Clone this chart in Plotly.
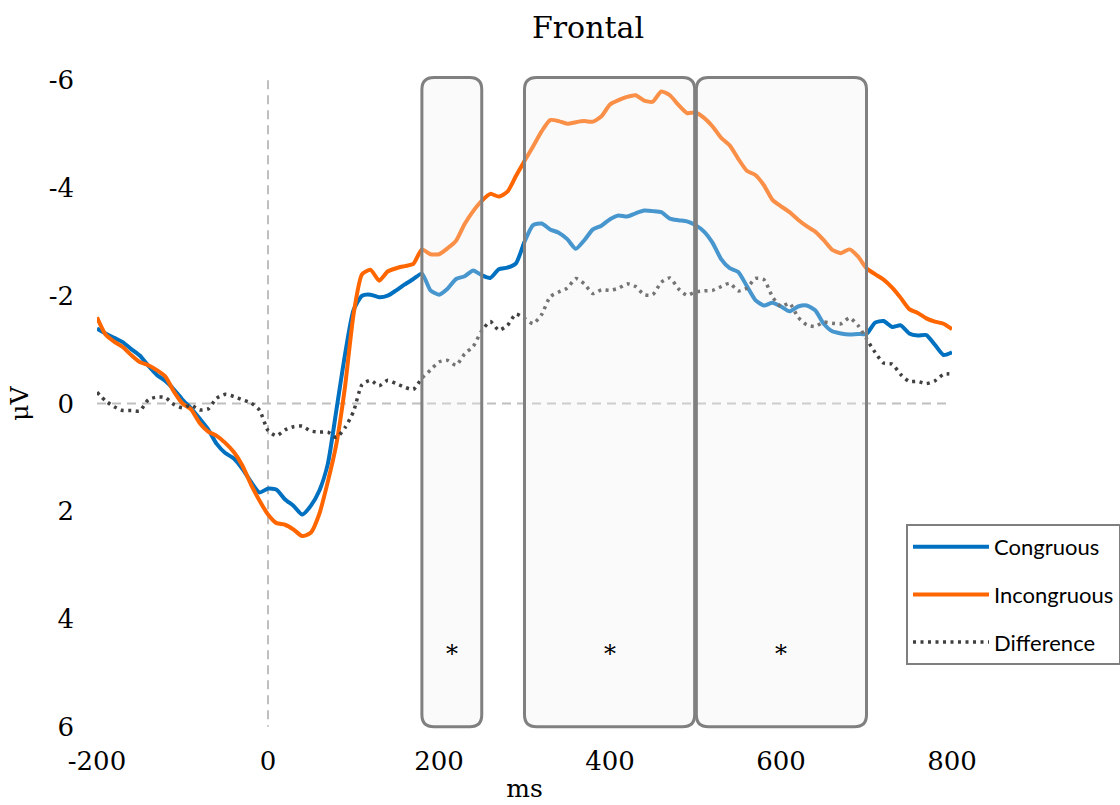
import plotly.graph_objects as go

# ---------------- data ----------------
time_ms = list(range(-200, 801, 10))

congruous = [
    -1.39, -1.30, -1.22, -1.14, -1.01, -0.89, -0.70, -0.53, -0.42, -0.26,
    -0.07, 0.09, 0.28, 0.48, 0.75, 0.92, 1.02, 1.21, 1.45, 1.65,
    1.58, 1.60, 1.78, 1.90, 2.06, 1.90, 1.62, 1.12, 0.12, -0.90,
    -1.73, -2.00, -2.02, -1.97, -2.00, -2.10, -2.21, -2.31, -2.41, -2.10,
    -2.02, -2.13, -2.31, -2.36, -2.47, -2.38, -2.33, -2.49, -2.52, -2.60,
    -3.00, -3.31, -3.34, -3.23, -3.17, -3.05, -2.87, -3.03, -3.23, -3.30,
    -3.42, -3.49, -3.47, -3.53, -3.58, -3.57, -3.55, -3.43, -3.40, -3.38,
    -3.31, -3.19, -2.98, -2.68, -2.51, -2.44, -2.18, -1.92, -1.82, -1.87,
    -1.80, -1.71, -1.80, -1.82, -1.73, -1.48, -1.34, -1.30, -1.28, -1.29,
    -1.29, -1.50, -1.53, -1.42, -1.45, -1.30, -1.26, -1.27, -1.09, -0.90,
    -0.95,
]

incongruous = [
    -1.60, -1.28, -1.15, -1.05, -0.90, -0.77, -0.71, -0.62, -0.50, -0.22,
    0.00, 0.11, 0.36, 0.52, 0.60, 0.73, 0.90, 1.15, 1.50, 1.80,
    2.06, 2.22, 2.25, 2.34, 2.46, 2.40, 2.05, 1.45, 0.75, -0.30,
    -1.65, -2.40, -2.48, -2.28, -2.45, -2.51, -2.55, -2.59, -2.86, -2.77,
    -2.77, -2.88, -3.02, -3.33, -3.57, -3.76, -3.89, -3.84, -3.93, -4.22,
    -4.50, -4.77, -5.05, -5.26, -5.24, -5.19, -5.22, -5.24, -5.23, -5.33,
    -5.55, -5.63, -5.69, -5.72, -5.62, -5.60, -5.79, -5.72, -5.54, -5.39,
    -5.40, -5.30, -5.14, -4.93, -4.79, -4.54, -4.32, -4.24, -4.05, -3.78,
    -3.66, -3.55, -3.41, -3.29, -3.19, -3.03, -2.85, -2.79, -2.86, -2.73,
    -2.51, -2.40, -2.30, -2.15, -1.96, -1.75, -1.68, -1.58, -1.52, -1.48,
    -1.38,
]

difference = [
    -0.21, -0.05, 0.06, 0.13, 0.13, 0.14, -0.07, -0.12, -0.11, 0.02,
    0.08, 0.03, 0.12, 0.10, -0.10, -0.17, -0.13, -0.07, -0.01, 0.12,
    0.50, 0.60, 0.49, 0.43, 0.42, 0.51, 0.53, 0.53, 0.63, 0.45,
    0.15, -0.35, -0.43, -0.33, -0.43, -0.37, -0.30, -0.26, -0.47, -0.62,
    -0.77, -0.80, -0.71, -0.92, -1.06, -1.35, -1.52, -1.36, -1.45, -1.66,
    -1.58, -1.48, -1.65, -1.98, -2.07, -2.14, -2.32, -2.22, -2.04, -2.11,
    -2.10, -2.14, -2.22, -2.17, -2.02, -2.02, -2.25, -2.33, -2.13, -2.01,
    -2.07, -2.09, -2.10, -2.17, -2.23, -2.09, -2.14, -2.32, -2.30, -1.98,
    -1.80, -1.86, -1.60, -1.46, -1.43, -1.51, -1.49, -1.48, -1.59, -1.45,
    -1.20, -0.95, -0.75, -0.73, -0.54, -0.41, -0.41, -0.37, -0.42, -0.54,
    -0.55,
]

# significant time windows (ms) and their markers
window_start = [180, 300, 501]
window_end = [250, 499, 700]
window_label = ["*", "*", "*"]

x_tick_vals = [-200, 0, 200, 400, 600, 800]
x_tick_text = ["-200", "0", "200", "400", "600", "800"]
y_tick_vals = [-6, -4, -2, 0, 2, 4, 6]
y_tick_text = ["-6", "-4", "-2", "0", "2", "4", "6"]

# ---------------- layout geometry ----------------
W, H = 1120, 805
M_L, M_R, M_T, M_B = 97, 168, 64, 62
X_RANGE = [-200, 800]
Y_RANGE = [6.3, -6.3]
px_per_x = (W - M_L - M_R) / (X_RANGE[1] - X_RANGE[0])
px_per_y = (H - M_T - M_B) / abs(Y_RANGE[0] - Y_RANGE[1])

SERIF = "DejaVu Serif"
BLUE = "#0070C0"
ORANGE = "#FF6600"
DARK = "#404040"

fig = go.Figure()
fig.add_trace(go.Scatter(x=time_ms, y=congruous, mode="lines", name="Congruous",
                         line=dict(color=BLUE, width=4, shape="spline", smoothing=0.6),
                         legendgroup="a"))
fig.add_trace(go.Scatter(x=time_ms, y=incongruous, mode="lines", name="Incongruous",
                         line=dict(color=ORANGE, width=4, shape="spline", smoothing=0.6),
                         legendgroup="b"))
fig.add_trace(go.Scatter(x=time_ms, y=difference, mode="lines", name="Difference",
                         line=dict(color=DARK, width=3.5, dash="3px,4.5px", shape="spline", smoothing=0.6),
                         legendgroup="c"))

shapes = []
# zero reference lines
shapes.append(dict(type="line", xref="x", yref="y", x0=X_RANGE[0], x1=X_RANGE[1], y0=0, y1=0,
                   line=dict(color="#BFBFBF", width=2, dash="9px,6px"), layer="below"))
shapes.append(dict(type="line", xref="x", yref="y", x0=0, x1=0, y0=y_tick_vals[0], y1=y_tick_vals[-1],
                   line=dict(color="#BFBFBF", width=2, dash="9px,6px"), layer="below"))

# rounded window boxes
rpx = 12
rx = rpx / px_per_x
ry = rpx / px_per_y
box_top, box_bot = -6.05, 6.0
for xs, xe in zip(window_start, window_end):
    y0, y1 = box_top, box_bot
    path = (f"M {xs+rx},{y0} L {xe-rx},{y0} Q {xe},{y0} {xe},{y0+ry} "
            f"L {xe},{y1-ry} Q {xe},{y1} {xe-rx},{y1} "
            f"L {xs+rx},{y1} Q {xs},{y1} {xs},{y1-ry} "
            f"L {xs},{y0+ry} Q {xs},{y0} {xs+rx},{y0} Z")
    shapes.append(dict(type="path", xref="x", yref="y", path=path,
                       fillcolor="rgba(240,240,240,0.3)",
                       line=dict(color="#808080", width=3), layer="above"))

annotations = []
for xs, xe, lab in zip(window_start, window_end, window_label):
    annotations.append(dict(x=(xs + xe) / 2, y=4.65, xref="x", yref="y", text=lab,
                            showarrow=False, font=dict(family=SERIF, size=24, color="black")))

fig.update_layout(
    width=W, height=H,
    margin=dict(l=M_L, r=M_R, t=M_T, b=M_B, autoexpand=False),
    paper_bgcolor="white", plot_bgcolor="white",
    title=dict(text="Frontal", x=588 / W, xref="container", xanchor="center",
               y=1 - 27 / H, yref="container", yanchor="middle",
               font=dict(family=SERIF, size=30, color="black")),
    xaxis=dict(range=X_RANGE, tickvals=x_tick_vals, ticktext=x_tick_text,
               showgrid=False, zeroline=False, showline=False, ticks="",
               tickfont=dict(family=SERIF, size=26, color="black"),
               title=dict(text="ms", font=dict(family=SERIF, size=25, color="black"), standoff=4)),
    yaxis=dict(range=Y_RANGE, tickvals=y_tick_vals, ticktext=y_tick_text,
               showgrid=False, zeroline=False, showline=False, ticks="",
               ticklabelstandoff=22,
               tickfont=dict(family=SERIF, size=26, color="black"),
               title=dict(text="μV", font=dict(family=SERIF, size=25, color="black"), standoff=12)),
    legend=dict(x=(906 - M_L) / (W - M_L - M_R), xanchor="left",
                y=(H - M_B - 524) / (H - M_T - M_B), yanchor="top",
                bordercolor="#7F7F7F", borderwidth=2, bgcolor="white",
                font=dict(family="Lato", size=22, color="black"),
                itemwidth=76, tracegroupgap=16, traceorder="grouped"),
    shapes=shapes,
    annotations=annotations,
)

fig.write_html("out.html")
